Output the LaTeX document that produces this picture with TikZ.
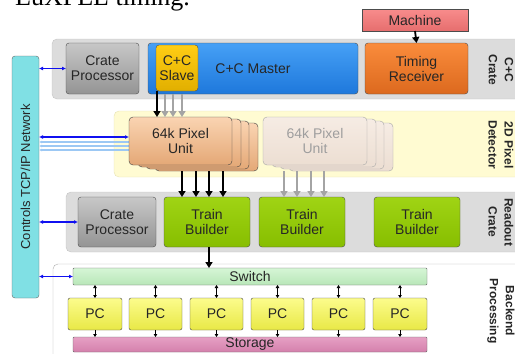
\documentclass[tikz,border=0pt]{standalone}
\usepackage{fontspec}
\setmainfont{Liberation Sans}
\newfontfamily\seriffont{Liberation Serif}
\usetikzlibrary{arrows.meta}
\definecolor{txt}{HTML}{262626}
\definecolor{panelgray}{HTML}{DCDCDC}
\definecolor{panelline}{HTML}{C4C4C4}
\definecolor{detfill}{HTML}{FFFBD2}
\definecolor{detline}{HTML}{E6E2B4}
\definecolor{netfill}{HTML}{80E0E4}
\definecolor{arrgray}{HTML}{A4A4A4}
\definecolor{lblue}{HTML}{9CC8F4}
\definecolor{dblue}{HTML}{1010F0}
\newcommand{\bn}[7]{\node[#1,minimum width={(#4-#2)*1pt},minimum height={(#5-#3)*1pt}] (#6) at ({(#2+#4)/2},{(#3+#5)/2}) {#7};}
\tikzset{
  base/.style={draw, rounded corners=3pt, inner sep=0pt, outer sep=0pt, align=center, text=txt, font=\fontsize{14}{15}\selectfont},
  panel/.style={draw=panelline, fill=panelgray, rounded corners=5pt, inner sep=0pt, outer sep=0pt},
  grayb/.style={base, draw=black!70, top color=black!22, bottom color=black!42},
  blueb/.style={base, draw=black!70, top color={rgb,255:red,70;green,160;blue,245}, bottom color={rgb,255:red,30;green,120;blue,220}},
  slaveb/.style={base, draw=black!70, top color={rgb,255:red,255;green,205;blue,20}, bottom color={rgb,255:red,225;green,175;blue,0}},
  orangeb/.style={base, draw=black!70, top color={rgb,255:red,250;green,140;blue,60}, bottom color={rgb,255:red,220;green,105;blue,30}},
  machb/.style={base, draw=black!70, rounded corners=0pt, top color={rgb,255:red,248;green,140;blue,140}, bottom color={rgb,255:red,230;green,110;blue,110}},
  pixb/.style={base, draw=black!75, rounded corners=4pt, top color={rgb,255:red,250;green,212;blue,178}, bottom color={rgb,255:red,228;green,168;blue,118}},
  fadeb/.style={base, draw=black!35, rounded corners=4pt, text=black!38, top color={rgb,255:red,246;green,236;blue,228}, bottom color={rgb,255:red,236;green,222;blue,210}},
  greenb/.style={base, draw=black!70, top color={rgb,255:red,160;green,212;blue,20}, bottom color={rgb,255:red,135;green,190;blue,0}},
  switchb/.style={base, rounded corners=1pt, draw=black!60, top color={rgb,255:red,214;green,246;blue,214}, bottom color={rgb,255:red,184;green,230;blue,184}},
  pcb/.style={base, rounded corners=2pt, draw=black!70, top color={rgb,255:red,252;green,252;blue,140}, bottom color={rgb,255:red,232;green,232;blue,70}},
  storb/.style={base, rounded corners=1pt, draw=black!60, top color={rgb,255:red,230;green,160;blue,196}, bottom color={rgb,255:red,212;green,128;blue,172}},
  netb/.style={base, draw=black!60, fill=netfill, font=\fontsize{13}{14}\selectfont},
  sidelabel/.style={rotate=-90, align=center, font=\bfseries\fontsize{12}{16}\selectfont, text=txt},
  blk/.style={-{Triangle[length=6pt,width=7pt]}, line width=1.8pt, draw=black},
  gry/.style={-{Triangle[length=6pt,width=7pt]}, line width=1.8pt, draw=arrgray},
  blu/.style={{Latex[length=4pt,width=4pt]}-{Latex[length=4pt,width=4pt]}, line width=1.3pt, draw=dblue},
  lbl/.style={{Latex[length=3pt,width=3pt]}-, line width=1.3pt, draw=lblue},
  sdbl/.style={{Triangle[length=3pt,width=3.5pt]}-{Triangle[length=3pt,width=3.5pt]}, line width=0.9pt, draw=black},
  sone/.style={-{Triangle[length=3pt,width=3.5pt]}, line width=0.9pt, draw=black},
}
\begin{document}
\begin{tikzpicture}[x=1pt,y=-1pt]
\useasboundingbox (0,0) rectangle (515,354);
\begin{scope}
\clip (0,0) rectangle (515,354);
% cut top caption
\node[anchor=base west, inner sep=0pt, font=\seriffont\fontsize{26}{28}\selectfont, text=black] (caption) at (15,5) {EuXFEL timing.};
% panels
\bn{panel}{52}{39}{530}{99}{pcc}{}
\bn{panel, draw=detline, fill=detfill}{114}{111}{530}{177}{pdet}{}
\bn{panel}{66}{192}{530}{252}{pro}{}
\bn{panel, fill=white, draw=black!32}{53}{264}{530}{370}{pbe}{}
\end{scope}
% side labels
\node[sidelabel] (lcc) at (501,70) {C+C\\Crate};
\node[sidelabel] (ldet) at (501,145) {2D Pixel\\Detector};
\node[sidelabel] (lro) at (501,222) {Readout\\Crate};
\node[sidelabel] (lbe) at (501,311) {Backend\\Processing};
% network
\bn{netb}{12}{56}{39}{298}{net}{}
\node[rotate=90, font=\fontsize{13}{14}\selectfont, text=txt] (nettxt) at (net.center) {Controls TCP/IP Network};
% top crate
\bn{grayb}{66}{43}{139}{94}{cp1}{Crate\\Processor}
\bn{blueb}{148}{43}{358}{94}{master}{C+C Master}
\bn{slaveb}{156}{45}{198}{91}{slave}{C+C\\Slave}
\bn{orangeb}{365}{43}{468}{94}{timing}{Timing\\Receiver}
\bn{machb}{362}{9}{468}{31}{machine}{Machine}
% pixel units (faded)
\bn{fadeb}{289}{123}{393}{171}{fu4}{}
\bn{fadeb}{280}{121}{384}{169}{fu3}{}
\bn{fadeb}{272}{119}{376}{167}{fu2}{}
\bn{fadeb}{263}{117}{367}{165}{fu1}{64k Pixel\\Unit}
% light blue lines
\coordinate (yl1) at (0,142);
\coordinate (yl2) at (0,146);
\coordinate (yl3) at (0,150);
\coordinate (yd) at (0,137);
% pixel units (active)
\bn{pixb}{155}{123}{258}{171}{pu4}{}
\bn{pixb}{146}{121}{249}{169}{pu3}{}
\bn{pixb}{138}{119}{241}{167}{pu2}{}
\draw[lbl] (net.east |- yl1) -- (pu2.west |- yl1);
\draw[lbl] (net.east |- yl2) -- (pu2.west |- yl2);
\draw[lbl] (net.east |- yl3) -- (pu2.west |- yl3);
\bn{pixb}{129}{117}{232}{165}{pu1}{64k Pixel\\Unit}
% readout crate
\bn{grayb}{78}{197}{156}{247}{cp2}{Crate\\Processor}
\bn{greenb}{164}{197}{250}{247}{tb1}{Train\\Builder}
\bn{greenb}{259}{197}{345}{247}{tb2}{Train\\Builder}
\bn{greenb}{374}{197}{460}{247}{tb3}{Train\\Builder}
% backend
\bn{switchb}{73}{268}{427}{285}{switch}{Switch}
\bn{pcb}{68}{298}{122}{330}{pc1}{PC}
\bn{pcb}{129}{298}{182}{330}{pc2}{PC}
\bn{pcb}{190}{298}{243}{330}{pc3}{PC}
\bn{pcb}{251}{298}{304}{330}{pc4}{PC}
\bn{pcb}{312}{298}{365}{330}{pc5}{PC}
\bn{pcb}{373}{298}{427}{330}{pc6}{PC}
\bn{storb}{73}{337}{427}{352}{storage}{Storage}
% connectors
\draw[blk] (machine.south) -- (timing.north);
\coordinate (xs) at (157,0);
\draw[blk] (xs |- slave.south) -- (xs |- pu1.north);
\foreach \x [count=\i] in {165,173,182} {
  \coordinate (xg\i) at (\x,0);
  \draw[gry] (xg\i |- master.south) -- (xg\i |- pu1.north);
}
\foreach \x [count=\i] in {182,196,209,223} {
  \coordinate (xb\i) at (\x,0);
  \draw[blk] (xb\i |- pu4.south) -- (xb\i |- tb1.north);
}
\foreach \x [count=\i] in {284,297,311,324} {
  \coordinate (xf\i) at (\x,0);
  \draw[gry] (xf\i |- fu4.south) -- (xf\i |- tb2.north);
}
\draw[blu] (net.east |- cp1.west) -- (cp1.west);
\draw[blu] (net.east |- yd) -- (pu1.west |- yd);
\draw[blu] (net.east |- cp2.west) -- (cp2.west);
\draw[blu] (net.east |- switch.west) -- (switch.west);
\coordinate (xtb) at (209,0);
\draw[blk] (xtb |- tb1.south) -- (xtb |- switch.north);
\foreach \p in {pc1,pc2,pc3,pc4,pc5,pc6} {
  \draw[sdbl] (switch.south -| \p.north) -- (\p.north);
  \draw[sone] (\p.south) -- (storage.north -| \p.south);
}
\end{tikzpicture}
\end{document}
